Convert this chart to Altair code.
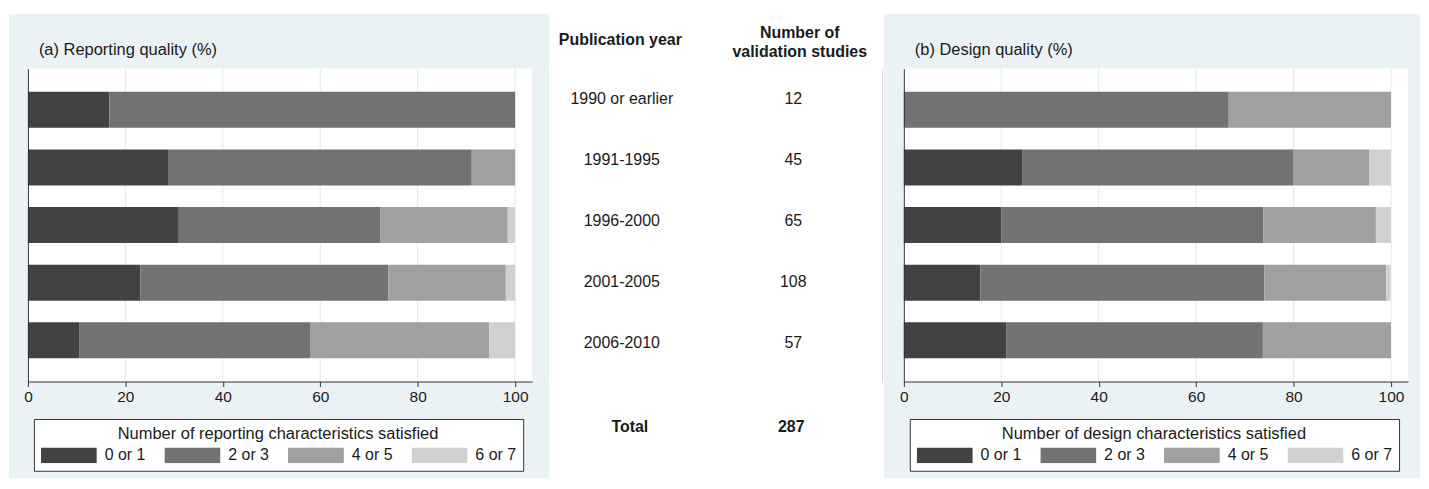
import altair as alt
import pandas as pd

# ---------------- data ----------------
years = ["1990 or earlier", "1991-1995", "1996-2000", "2001-2005", "2006-2010"]
n_studies = [12, 45, 65, 108, 57]
total_studies = 287
groups = ["0 or 1", "2 or 3", "4 or 5", "6 or 7"]

# (a) reporting quality, % of studies per year band
rep_0_1 = [16.7, 28.9, 30.8, 23.1, 10.5]
rep_2_3 = [83.3, 62.2, 41.5, 50.9, 47.4]
rep_4_5 = [0.0, 8.9, 26.2, 24.1, 36.8]
rep_6_7 = [0.0, 0.0, 1.5, 1.9, 5.3]

# (b) design quality, % of studies per year band
des_0_1 = [0.0, 24.4, 20.0, 15.7, 21.1]
des_2_3 = [66.7, 55.6, 53.8, 58.3, 52.6]
des_4_5 = [33.3, 15.6, 23.1, 25.0, 26.3]
des_6_7 = [0.0, 4.4, 3.1, 0.9, 0.0]

x_ticks = [0, 20, 40, 60, 80, 100]
grid_ticks = [20, 40, 60, 80, 100]

# ---------------- style ----------------
FONT = "Liberation Sans"
TXT = "#1a1a1a"
AX = "#333333"
BLUE = "#eaf2f6"
GRID = "#dfeaf1"
COLORS = ["#424242", "#717271", "#a0a09f", "#d0d0cf"]

PW, PH = 506, 314          # plot area of the bar panels
TOP = -54.7                # top of panel background relative to plot
BOTTOM = 411               # bottom of panel background relative to plot
SYMBOL = "M-1,-0.2857L1,-0.2857L1,0.2857L-1,0.2857Z"

one = pd.DataFrame({"k": [0]})


def bar_panel(series, title, legend_title, bg_left, bg_right):
    rows = []
    for gi, (g, vals) in enumerate(zip(groups, series)):
        for yr, v in zip(years, vals):
            rows.append({"year": yr, "group": g, "order": gi, "pct": v})
    df = pd.DataFrame(rows)

    xscale = alt.Scale(domain=[0, 103.5], nice=False, zero=True)
    xaxis = alt.Axis(values=x_ticks, grid=False, title=None, domainColor=AX,
                     tickColor=AX, tickSize=5, labelFont=FONT, labelFontSize=15.5,
                     labelColor=TXT, labelPadding=3, labelFlush=False,
                     labelOverlap=False, zindex=1)

    bg = alt.Chart(one).mark_rect(color=BLUE).encode(
        x=alt.value(bg_left), x2=alt.value(bg_right),
        y=alt.value(TOP), y2=alt.value(BOTTOM))
    plot_bg = alt.Chart(one).mark_rect(color="white").encode(
        x=alt.value(0), x2=alt.value(PW), y=alt.value(0), y2=alt.value(PH))
    grid = alt.Chart(pd.DataFrame({"g": grid_ticks})).mark_rule(
        color=GRID, strokeWidth=1).encode(
        x=alt.X("g:Q", scale=xscale, axis=xaxis))
    bars = alt.Chart(df).mark_bar().encode(
        x=alt.X("pct:Q", stack="zero", scale=xscale, axis=xaxis),
        y=alt.Y("year:N", sort=years,
                scale=alt.Scale(paddingInner=0.377, paddingOuter=0.4035),
                axis=alt.Axis(labels=False, ticks=False, title=None, grid=False,
                              domain=True, domainColor=AX, zindex=1)),
        color=alt.Color("group:N",
                        scale=alt.Scale(domain=groups, range=COLORS),
                        legend=alt.Legend(
                            title=legend_title, orient="none",
                            legendX=6, legendY=351.6,
                            direction="horizontal", columns=4,
                            symbolType=SYMBOL, symbolSize=3136,
                            symbolStrokeWidth=0, symbolOpacity=1,
                            clipHeight=16, labelOffset=8, columnPadding=19,
                            labelFont=FONT, labelFontSize=16, labelColor=TXT,
                            labelLimit=200,
                            titleFont=FONT, titleFontSize=16.5,
                            titleFontWeight="normal", titleColor=TXT,
                            titleAnchor="middle", titlePadding=5, titleLimit=600,
                            padding=7, strokeColor=AX, fillColor="white",
                            cornerRadius=0)),
        order=alt.Order("order:Q", sort="ascending"),
    )
    ttl = alt.Chart(one).mark_text(
        text=title, align="left", baseline="middle", font=FONT,
        fontSize=16.5, color=TXT).encode(x=alt.value(11), y=alt.value(-18.5))
    return alt.layer(bg, plot_bg, grid, bars, ttl).properties(width=PW, height=PH)


left = bar_panel([rep_0_1, rep_2_3, rep_4_5, rep_6_7],
                 "(a) Reporting quality (%)",
                 "Number of reporting characteristics satisfied", -19, 523)
right = bar_panel([des_0_1, des_2_3, des_4_5, des_6_7],
                  "(b) Design quality (%)",
                  "Number of design characteristics satisfied", -20, 518)

# ---------------- middle table ----------------
MW = 332
cols = ["Publication year", "Number of|validation studies"]
TOTAL_ROW = 5.39
mid_rows = []
for i, (yr, n) in enumerate(zip(years, n_studies)):
    mid_rows.append({"col": cols[0], "pos": i, "txt": yr})
    mid_rows.append({"col": cols[1], "pos": i, "txt": str(n)})
mid_df = pd.DataFrame(mid_rows)

is_first = "datum.value == 'Publication year'"
mx = alt.X("col:N", sort=cols,
           scale=alt.Scale(type="point", padding=0.465, align=0.444),
           axis=alt.Axis(orient="top", title=None, ticks=False, tickSize=0,
                         domain=False, grid=False, labelAngle=0,
                         labelFont=FONT, labelFontSize=16,
                         labelFontWeight="bold", labelColor=TXT,
                         labelBaseline="middle",
                         labelPadding={"condition": {"test": is_first, "value": 29.2},
                                       "value": 36.3},
                         labelOffset={"condition": {"test": is_first, "value": -2},
                                      "value": 6},
                         labelLineHeight=19.4,
                         labelExpr="split(datum.label, '|')", zindex=1))
my = alt.Y("pos:Q", scale=alt.Scale(domain=[-0.501, 4.638], reverse=True,
                                     nice=False, zero=False), axis=None)

mid_bg = alt.Chart(one).mark_rect(color="white").encode(
    x=alt.value(0), x2=alt.value(MW), y=alt.value(TOP), y2=alt.value(BOTTOM))
mid_txt = alt.Chart(mid_df).mark_text(
    font=FONT, fontSize=16, color=TXT, baseline="middle").encode(
    x=mx, y=my, text="txt:N")
tot_lbl = alt.Chart(pd.DataFrame({"col": [cols[0]], "pos": [TOTAL_ROW],
                                  "txt": ["Total"]})).mark_text(
    font=FONT, fontSize=16, fontWeight="bold", color=TXT, baseline="middle",
    dx=8).encode(x=mx, y=my, text="txt:N")
tot_val = alt.Chart(pd.DataFrame({"col": [cols[1]], "pos": [TOTAL_ROW],
                                  "txt": [str(total_studies)]})).mark_text(
    font=FONT, fontSize=16, fontWeight="bold", color=TXT, baseline="middle",
    dx=-2).encode(x=mx, y=my, text="txt:N")
middle = alt.layer(mid_bg, mid_txt, tot_lbl, tot_val).properties(width=MW, height=PH)

chart = alt.hconcat(left, middle, right, spacing=0).resolve_scale(
    color="independent", x="independent", y="independent"
).properties(
    padding={"left": 0, "top": 4, "right": 0, "bottom": 0}
).configure_view(strokeWidth=0, stroke="transparent").configure(background="white")

chart.save("out.html", embed_options={"renderer": "svg", "actions": False})
